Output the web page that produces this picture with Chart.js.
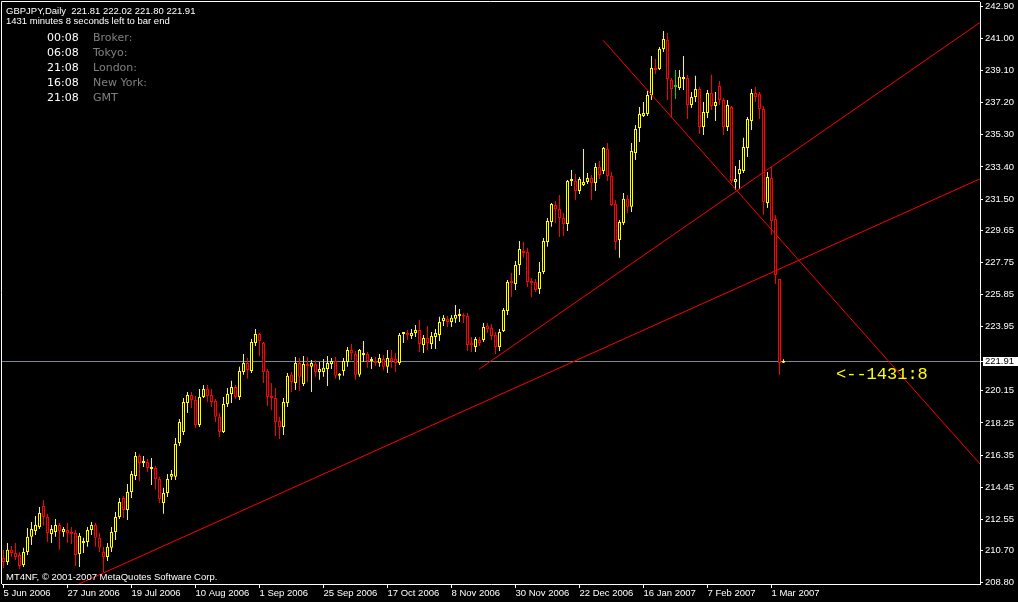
<!DOCTYPE html>
<html>
<head>
<meta charset="utf-8">
<title>GBPJPY,Daily</title>
<script src="https://cdn.jsdelivr.net/npm/chart.js@4.4.1/dist/chart.umd.min.js"></script>
<style>
  html, body { margin: 0; padding: 0; background: #000; }
  #wrap { width: 1018px; height: 602px; }
</style>
</head>
<body>
<div id="wrap"><canvas id="mycanvas" width="1018" height="602"></canvas></div>
<script>
// daily bars, 5 Jun 2006 .. 6 Mar 2007 (one bar per trading day)
var openPrices = [
  210.27, 210.02, 210.74, 210.56, 210.44, 209.84, 210.62, 211.51, 211.86, 212.10,
  213.34, 212.69, 211.68, 211.80, 212.21, 211.80, 211.92, 211.80, 211.74, 210.50,
  211.15, 211.21, 211.92, 212.21, 211.45, 210.62, 210.32, 210.86, 211.80, 212.69,
  213.81, 213.10, 214.17, 215.11, 216.30, 215.88, 215.94, 215.53, 215.59, 214.94,
  213.51, 214.11, 215.06, 215.06, 217.06, 217.72, 219.43, 219.90, 219.61, 218.13,
  219.78, 220.26, 219.90, 219.55, 218.61, 217.72, 219.37, 219.96, 220.38, 219.78,
  221.27, 221.80, 221.33, 222.98, 223.51, 222.98, 221.33, 219.84, 219.73, 218.37,
  218.01, 219.43, 221.10, 220.62, 221.80, 220.56, 221.74, 221.57, 221.74, 221.27,
  221.27, 221.45, 221.74, 221.92, 221.04, 221.33, 221.86, 222.57, 222.33, 221.10,
  222.27, 222.33, 221.92, 221.92, 221.80, 222.04, 221.57, 222.10, 222.04, 221.80,
  223.51, 223.57, 223.39, 223.57, 223.75, 222.86, 223.28, 222.92, 223.33, 223.45,
  224.29, 224.41, 224.23, 224.41, 224.58, 224.64, 224.58, 222.98, 222.74, 223.16,
  223.16, 223.99, 223.87, 223.45, 222.74, 223.69, 224.88, 226.65, 226.47, 227.60,
  228.37, 228.37, 226.65, 226.59, 226.18, 227.19, 228.96, 230.14, 231.15, 230.91,
  230.38, 230.02, 232.57, 232.57, 231.98, 232.33, 232.51, 232.75, 232.45, 233.39,
  233.16, 234.46, 232.86, 231.21, 229.08, 230.08, 231.51, 231.04, 234.22, 235.71,
  236.41, 236.53, 237.66, 239.26, 239.20, 240.38, 240.91, 238.55, 238.13, 238.07,
  238.61, 238.67, 237.07, 237.54, 238.01, 235.77, 236.59, 237.78, 237.01, 238.19,
  237.36, 235.77, 236.95, 232.51, 232.98, 233.16, 234.52, 236.12, 237.78, 237.72,
  236.83, 231.27, 232.75, 230.32, 226.77, 221.81
];
var highPrices = [
  210.74, 211.15, 210.98, 211.15, 210.62, 210.86, 212.04, 212.39, 212.75, 213.28,
  213.69, 212.87, 212.21, 212.57, 212.33, 212.10, 212.33, 212.10, 211.92, 211.74,
  211.45, 212.10, 212.39, 212.33, 211.74, 210.92, 211.15, 212.10, 212.98, 213.81,
  213.93, 214.64, 215.41, 216.53, 216.41, 216.30, 216.12, 216.18, 215.71, 215.06,
  214.41, 215.23, 215.47, 217.36, 218.49, 219.73, 220.08, 220.08, 219.84, 220.26,
  220.50, 220.50, 220.26, 219.67, 218.84, 219.78, 220.32, 220.74, 220.50, 221.57,
  222.33, 222.10, 223.22, 223.81, 223.57, 223.04, 221.45, 220.62, 220.32, 218.61,
  219.73, 221.21, 221.27, 222.16, 222.10, 222.21, 222.16, 221.98, 221.98, 221.86,
  222.04, 222.21, 222.10, 222.16, 221.21, 222.10, 222.74, 222.92, 222.51, 222.63,
  223.10, 222.45, 222.16, 222.16, 222.33, 222.27, 222.57, 222.57, 222.39, 223.57,
  223.63, 223.75, 223.81, 224.05, 224.35, 223.45, 223.99, 223.63, 223.81, 224.53,
  224.64, 224.58, 224.64, 225.23, 225.00, 224.76, 224.76, 223.33, 223.33, 223.33,
  224.17, 224.17, 224.11, 223.63, 223.81, 225.05, 226.71, 227.13, 227.84, 229.02,
  228.96, 228.61, 226.83, 226.77, 227.78, 229.20, 230.38, 231.27, 231.39, 231.74,
  230.67, 232.63, 233.22, 232.98, 232.80, 234.46, 233.04, 232.92, 233.63, 233.75,
  234.58, 234.82, 233.10, 231.45, 230.26, 231.86, 231.74, 234.82, 235.88, 236.95,
  237.24, 237.89, 239.97, 239.79, 240.50, 241.44, 241.33, 238.67, 239.14, 239.14,
  239.97, 238.85, 237.84, 238.79, 238.13, 237.24, 237.95, 238.85, 237.84, 238.49,
  237.48, 237.36, 237.01, 233.46, 233.81, 235.12, 236.36, 238.01, 238.13, 237.84,
  237.01, 233.10, 233.39, 230.56, 226.77, 222.02
];
var lowPrices = [
  209.67, 209.84, 210.32, 210.14, 209.61, 209.73, 210.44, 211.03, 211.62, 211.98,
  212.16, 211.21, 211.15, 211.51, 210.74, 211.51, 211.15, 211.09, 209.78, 209.73,
  210.56, 210.92, 211.62, 210.92, 210.62, 209.43, 210.08, 210.62, 211.33, 212.57,
  212.63, 212.51, 213.81, 214.88, 214.82, 215.65, 215.35, 214.58, 214.29, 213.51,
  212.87, 213.87, 214.88, 214.88, 216.89, 217.54, 218.84, 219.14, 217.95, 218.01,
  219.73, 219.49, 219.20, 218.31, 217.42, 217.66, 219.20, 219.43, 219.67, 219.61,
  221.10, 220.86, 221.21, 222.80, 222.21, 220.62, 219.25, 219.02, 217.48, 217.30,
  217.54, 219.20, 220.08, 220.20, 220.14, 220.44, 220.68, 220.08, 220.98, 220.80,
  220.98, 220.44, 221.45, 220.86, 220.80, 221.04, 221.57, 221.98, 220.80, 220.98,
  221.86, 221.51, 221.45, 221.62, 221.57, 221.39, 221.21, 221.51, 221.27, 221.68,
  222.98, 223.16, 223.22, 223.33, 222.45, 222.39, 222.57, 222.63, 222.63, 223.10,
  223.99, 223.93, 223.93, 224.17, 224.23, 224.17, 222.51, 222.45, 222.45, 222.80,
  223.04, 223.57, 223.16, 222.33, 222.51, 223.63, 224.64, 225.70, 226.12, 227.01,
  228.02, 226.30, 225.70, 226.00, 225.88, 227.07, 228.67, 229.86, 230.08, 229.25,
  229.31, 229.61, 232.27, 231.45, 231.80, 232.27, 232.39, 231.45, 231.98, 232.69,
  232.98, 232.57, 231.09, 228.49, 228.02, 229.96, 230.67, 230.73, 233.81, 234.88,
  236.36, 236.41, 237.36, 238.90, 239.14, 240.20, 237.36, 236.30, 237.42, 237.95,
  237.95, 236.24, 236.89, 237.24, 235.35, 235.29, 236.30, 236.77, 236.12, 237.07,
  235.29, 235.53, 232.45, 232.04, 232.10, 233.04, 233.99, 235.59, 237.24, 236.24,
  230.56, 230.97, 229.37, 226.47, 221.09, 221.80
];
var closePrices = [
  210.02, 210.74, 210.56, 210.32, 209.78, 210.62, 211.51, 211.98, 212.21, 212.92,
  212.69, 211.74, 211.98, 212.21, 211.86, 211.98, 211.74, 211.68, 210.44, 211.57,
  211.21, 211.92, 212.21, 211.45, 210.86, 210.32, 210.92, 211.80, 212.69, 213.57,
  213.10, 214.17, 215.23, 216.30, 215.88, 215.94, 215.59, 215.59, 214.94, 213.75,
  214.11, 214.94, 215.23, 217.00, 218.31, 219.49, 219.90, 219.61, 218.13, 219.78,
  220.26, 219.84, 219.49, 218.61, 217.72, 219.37, 219.96, 220.38, 219.78, 221.33,
  221.80, 221.39, 223.04, 223.51, 223.10, 221.27, 219.78, 219.73, 218.31, 218.01,
  219.49, 221.04, 220.68, 221.80, 220.98, 221.74, 221.62, 221.80, 221.27, 221.45,
  221.51, 221.80, 221.92, 221.04, 221.10, 221.92, 222.57, 222.39, 221.10, 222.57,
  222.33, 221.92, 221.98, 221.80, 222.10, 221.57, 222.10, 221.92, 221.80, 223.45,
  223.57, 223.45, 223.57, 223.75, 222.92, 223.28, 222.98, 223.39, 223.57, 224.23,
  224.47, 224.23, 224.47, 224.64, 224.64, 224.53, 222.86, 222.86, 223.22, 222.98,
  223.93, 223.81, 223.39, 222.74, 223.63, 224.94, 226.59, 226.53, 227.60, 228.55,
  228.31, 226.59, 226.53, 226.12, 227.19, 229.02, 230.20, 231.21, 230.91, 230.38,
  230.02, 232.57, 232.69, 231.98, 232.69, 232.51, 232.75, 232.45, 233.39, 232.92,
  234.52, 232.86, 231.15, 228.96, 230.14, 231.51, 231.04, 234.34, 235.65, 236.53,
  236.59, 237.66, 239.26, 239.14, 240.38, 240.97, 238.61, 238.01, 238.13, 238.73,
  238.67, 237.07, 237.54, 238.01, 235.77, 236.65, 237.78, 237.01, 237.24, 237.36,
  235.77, 237.07, 232.57, 232.69, 233.28, 234.58, 236.24, 237.78, 237.54, 236.83,
  231.33, 232.80, 230.20, 227.01, 221.80, 221.91
];

// time axis labels (bar number where each label sits)
var tickIndexes = [0, 16, 32, 48, 64, 80, 96, 112, 128, 144, 160, 176, 192];
var tickLabels = ['5 Jun 2006', '27 Jun 2006', '19 Jul 2006', '10 Aug 2006', '1 Sep 2006', '25 Sep 2006',
  '17 Oct 2006', '8 Nov 2006', '30 Nov 2006', '22 Dec 2006', '16 Jan 2007', '7 Feb 2007', '1 Mar 2007'];
var priceTicks = [242.90, 241.00, 239.10, 237.20, 235.30, 233.40, 231.50, 229.65, 227.75, 225.85,
  223.95, 220.15, 218.25, 216.35, 214.45, 212.55, 210.70, 208.80];

// trend lines (bar number, price)
var trendLow = [{x: 15, y: 208.31}, {x: 250, y: 233.32}];
var trendHigh = [{x: 118.875, y: 221.43}, {x: 250, y: 242.91}];
var trendDown = [{x: 149.875, y: 240.90}, {x: 250, y: 214.26}];

// clock panel
var clockTimes = ['00:08', '06:08', '21:08', '16:08', '21:08'];
var clockNames = ['Broker:', 'Tokyo:', 'London:', 'New York:', 'GMT'];
var barTimer = '1431:8';

var wickData = [], bodyData = [], candleColors = [];
for (var i = 0; i < openPrices.length; i++) {
  wickData.push({x: i, y: [lowPrices[i], highPrices[i]]});
  bodyData.push({x: i, y: [openPrices[i], closePrices[i]]});
  if (closePrices[i] > openPrices[i]) candleColors.push('#ffff00');
  else if (closePrices[i] < openPrices[i]) candleColors.push('#ff0000');
  else candleColors.push('#00e000');
}
var last = openPrices.length - 1;

Chart.defaults.font.family = '"Liberation Sans", Arial, sans-serif';
Chart.defaults.font.size = 9.5;
Chart.defaults.color = '#ffffff';

var overlay = {
  id: 'overlay',
  beforeDatasetsDraw: function(chart) {
    var ctx = chart.ctx, a = chart.chartArea;
    var y = Math.round(chart.scales.y.getPixelForValue(closePrices[last])) + 0.5;
    ctx.save();
    ctx.strokeStyle = '#778899';
    ctx.lineWidth = 1;
    ctx.beginPath();
    ctx.moveTo(a.left, y);
    ctx.lineTo(a.right, y);
    ctx.stroke();
    ctx.restore();
  },
  afterDraw: function(chart) {
    var ctx = chart.ctx, a = chart.chartArea;
    ctx.save();
    // frame top / left
    ctx.strokeStyle = '#ffffff';
    ctx.lineWidth = 1;
    ctx.beginPath();
    ctx.moveTo(1.5, a.bottom);
    ctx.lineTo(1.5, 1.5);
    ctx.lineTo(a.right, 1.5);
    ctx.stroke();

    // bid price label
    var y = Math.round(chart.scales.y.getPixelForValue(closePrices[last]));
    ctx.fillStyle = '#ffffff';
    ctx.fillRect(a.right, y, 3, 1);
    ctx.fillRect(983, y - 4, 35, 9);
    ctx.fillStyle = '#000000';
    ctx.font = '9.5px "Liberation Sans", Arial, sans-serif';
    ctx.textBaseline = 'middle';
    ctx.fillText(closePrices[last].toFixed(2), 985, y + 0.5);

    // header
    ctx.textBaseline = 'alphabetic';
    ctx.fillStyle = '#ffffff';
    ctx.fillText('GBPJPY,Daily  ' + [openPrices[last], highPrices[last], lowPrices[last], closePrices[last]]
      .map(function(v) { return v.toFixed(2); }).join(' '), 6, 13.5);
    ctx.fillText('1431 minutes 8 seconds left to bar end', 6, 23.5);
    ctx.fillText('MT4NF, \u00a9 2001-2007 MetaQuotes Software Corp.', 6, 580);

    // clocks
    ctx.font = '11px "DejaVu Sans", sans-serif';
    for (var k = 0; k < clockTimes.length; k++) {
      ctx.fillStyle = '#ffffff';
      ctx.fillText(clockTimes[k], 47, 40.5 + k * 15);
      ctx.fillStyle = '#808080';
      ctx.fillText(clockNames[k], 93, 40.5 + k * 15);
    }

    // bar timer
    ctx.font = '17px "Liberation Mono", monospace';
    ctx.fillStyle = '#ffff00';
    ctx.fillText('<--' + barTimer, 836, 379);
    ctx.restore();
  }
};

var ctx = document.getElementById('mycanvas');
var chart = new Chart(ctx, {
  type: 'bar',
  data: {
    datasets: [
      {
        type: 'line', data: trendLow, borderColor: '#ff0000', borderWidth: 1,
        pointRadius: 0, order: -1
      },
      {
        type: 'line', data: trendHigh, borderColor: '#ff0000', borderWidth: 1,
        pointRadius: 0, order: -1
      },
      {
        type: 'line', data: trendDown, borderColor: '#ff0000', borderWidth: 1,
        pointRadius: 0, order: -1
      },
      {
        label: 'bodies', data: bodyData, backgroundColor: '#000000', borderColor: candleColors,
        borderWidth: 1, borderSkipped: false, barThickness: 3, minBarLength: 2,
        grouped: false, inflateAmount: 0, order: 0
      },
      {
        label: 'wicks', data: wickData, backgroundColor: candleColors, borderWidth: 0,
        barThickness: 1, grouped: false, inflateAmount: 0, order: 1
      }
    ]
  },
  options: {
    responsive: false,
    animation: false,
    devicePixelRatio: 1,
    events: [],
    layout: { padding: { left: 2, top: 2, right: 0, bottom: 0 } },
    plugins: { legend: { display: false }, tooltip: { enabled: false } },
    scales: {
      x: {
        type: 'linear', min: -0.375, max: 244.125, offset: false, bounds: 'data',
        grid: { drawOnChartArea: false, drawTicks: true, tickLength: 4, color: '#ffffff', offset: false },
        border: { display: true, color: '#ffffff' },
        ticks: {
          color: '#ffffff', padding: 0, align: 'start', autoSkip: false, maxRotation: 0, minRotation: 0,
          callback: function(v, idx) { return tickLabels[idx]; }
        },
        afterBuildTicks: function(scale) {
          scale.ticks = tickIndexes.map(function(v) { return {value: v}; });
        },
        afterFit: function(scale) { scale.height = 18; scale.paddingLeft = 0; scale.paddingRight = 0; }
      },
      y: {
        type: 'linear', position: 'right', min: 208.72, max: 243.16, bounds: 'data', beginAtZero: false,
        grid: { drawOnChartArea: false, drawTicks: true, tickLength: 3, color: '#ffffff' },
        border: { display: true, color: '#ffffff' },
        ticks: {
          color: '#ffffff', padding: 2, autoSkip: false,
          callback: function(v) { return Number(v).toFixed(2); }
        },
        afterBuildTicks: function(scale) {
          scale.ticks = priceTicks.map(function(v) { return {value: v}; });
        },
        afterFit: function(scale) { scale.width = 38; scale.paddingTop = 0; scale.paddingBottom = 0; }
      }
    }
  },
  plugins: [overlay]
});
</script>
</body>
</html>
